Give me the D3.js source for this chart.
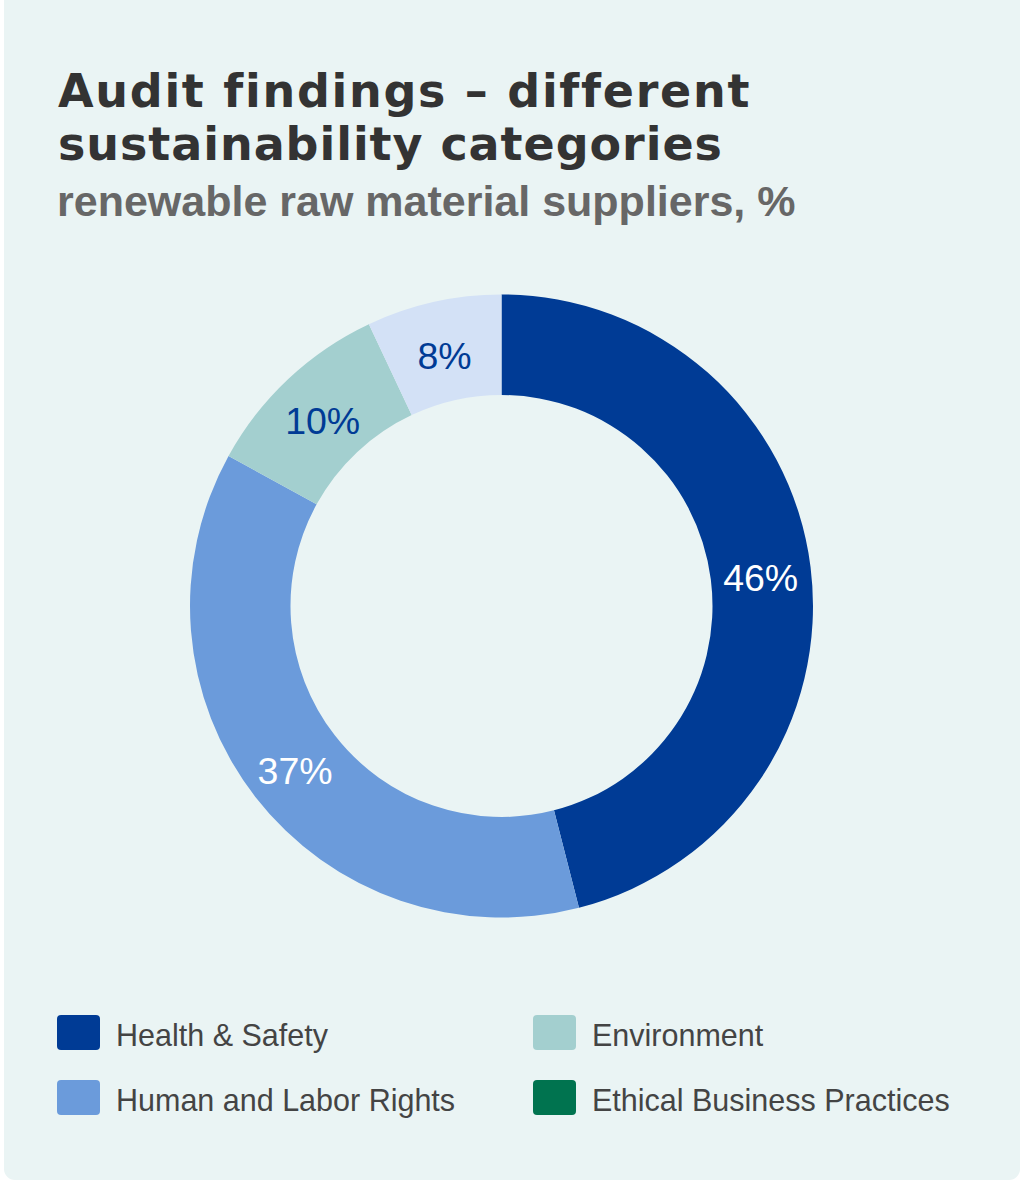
<!DOCTYPE html>
<html>
<head>
<meta charset="utf-8">
<script src="https://cdn.jsdelivr.net/npm/d3@7"></script>
<style>
  html, body { margin: 0; padding: 0; background: #ffffff; }
  svg { display: block; }
</style>
</head>
<body>
<svg id="chart" width="1026" height="1184"></svg>
<script>
// ---- data ----
const titleLines = ["Audit findings \u2013 different", "sustainability categories"];
const subtitle = "renewable raw material suppliers, %";
const categories = ["Health & Safety", "Human and Labor Rights", "Environment", "Ethical Business Practices"];
const shares = [46, 37, 10, 7];              // arc shares as drawn
const sliceLabels = ["46%", "37%", "10%", "8%"]; // printed labels
const sliceColors = ["#003b95", "#6b9bdb", "#a3cfcf", "#d3e1f6"];
const legendColors = ["#003b95", "#6b9bdb", "#a3cfcf", "#00734f"];

// ---- layout ----
const svg = d3.select("#chart");

svg.append("rect")
  .attr("x", 4).attr("y", -10).attr("width", 1016).attr("height", 1190)
  .attr("rx", 11).attr("fill", "#eaf4f4");

// Title
const titleTargets = [687, 664];
const titleSel = svg.append("g");
let titleSize = 44;
titleLines.forEach((t, i) => {
  const el = titleSel.append("text")
    .attr("x", 58).attr("y", 107 + i * 53)
    .attr("font-family", "'DejaVu Sans', sans-serif")
    .attr("font-weight", 700)
    .attr("font-size", titleSize)
    .attr("fill", "#333333")
    .text(t);
  if (i === 0) {
    const w = el.node().getComputedTextLength();
    titleSize = Math.min(46, titleSize * titleTargets[0] / w);
    el.attr("font-size", titleSize);
  }
  const w2 = el.node().getComputedTextLength();
  const ls = (titleTargets[i] - w2) / (t.length - 1);
  el.attr("letter-spacing", ls.toFixed(2));
});

svg.append("text")
  .attr("x", 57).attr("y", 215.5)
  .attr("font-family", "'Liberation Sans', Arial, sans-serif")
  .attr("font-weight", 700)
  .attr("font-size", 43)
  .attr("fill", "#676767")
  .text(subtitle);

// Donut
const cx = 501.5, cy = 606, rOuter = 311.5, rInner = 211;
const pie = d3.pie().sort(null).value(d => d.v);
const data = shares.map((v, i) => ({ v, cat: categories[i], label: sliceLabels[i], color: sliceColors[i] }));
const arcs = pie(data);
const arc = d3.arc().innerRadius(rInner).outerRadius(rOuter);

const g = svg.append("g").attr("transform", `translate(${cx},${cy})`);
g.selectAll("path.slice")
  .data(arcs)
  .join("path")
  .attr("class", "slice")
  .attr("d", arc)
  .attr("fill", d => d.data.color);

g.selectAll("text.lbl")
  .data(arcs)
  .join("text")
  .attr("class", "lbl")
  .attr("transform", d => `translate(${arc.centroid(d)})`)
  .attr("text-anchor", "middle")
  .attr("dy", "0.48em")
  .attr("font-family", "'Liberation Sans', Arial, sans-serif")
  .attr("font-size", 37.5)
  .attr("fill", d => d3.hsl(d.data.color).l < 0.65 ? "#ffffff" : "#003b95")
  .text(d => d.data.label);

// Legend
const legend = svg.append("g");
const colX = [57, 533];
const rowY = [1015, 1080];
categories.forEach((c, i) => {
  const col = Math.floor(i / 2), row = i % 2;
  const lg = legend.append("g").attr("transform", `translate(${colX[col]},${rowY[row]})`);
  lg.append("rect")
    .attr("width", 43).attr("height", 35).attr("rx", 4)
    .attr("fill", legendColors[i]);
  lg.append("text")
    .attr("x", 59).attr("y", 30.7)
    .attr("font-family", "'Liberation Sans', Arial, sans-serif")
    .attr("font-size", 30.5)
    .attr("fill", "#444444")
    .text(c);
});
</script>
</body>
</html>
